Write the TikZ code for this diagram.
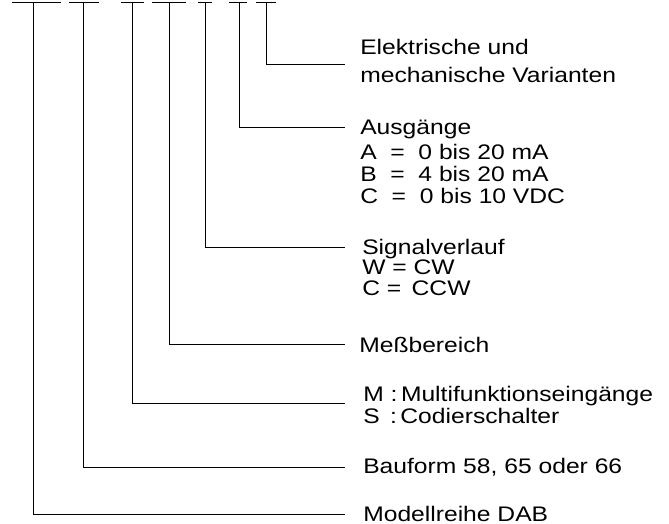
\documentclass[tikz,border=0pt]{standalone}
\usepackage{fontspec}
\setmainfont{Liberation Sans}[FakeStretch=1.17]
\usepackage{tikz}
\usetikzlibrary{positioning}

\tikzset{
    lbl/.style={anchor=base west,inner sep=0pt,font=\fontsize{15.8}{18}\selectfont},
    lead/.style={line width=0.75pt,black},
}

\begin{document}
\begin{tikzpicture}[x=0.75pt,y=-0.75pt]

        \useasboundingbox (0,0) rectangle (669,524);

        % code bars on top
        \coordinate (bar1a) at (12,3);  \coordinate (bar1b) at (61,3);
        \coordinate (bar2a) at (69,3);  \coordinate (bar2b) at (99,3);
        \coordinate (bar3a) at (121,3); \coordinate (bar3b) at (144,3);
        \coordinate (bar4a) at (152,3); \coordinate (bar4b) at (186,3);
        \coordinate (bar5a) at (198,3); \coordinate (bar5b) at (212,3);
        \coordinate (bar6a) at (229,3); \coordinate (bar6b) at (247,3);
        \coordinate (bar7a) at (256,3); \coordinate (bar7b) at (276,3);

        \draw[lead] (bar1a) -- (bar1b);
        \draw[lead] (bar2a) -- (bar2b);
        \draw[lead] (bar3a) -- (bar3b);
        \draw[lead] (bar4a) -- (bar4b);
        \draw[lead] (bar5a) -- (bar5b);
        \draw[lead] (bar6a) -- (bar6b);
        \draw[lead] (bar7a) -- (bar7b);

        % leader lines
        \coordinate (top1) at (33.5,3); \coordinate (end1) at (345,515);
        \coordinate (top2) at (83,3);   \coordinate (end2) at (345,468);
        \coordinate (top3) at (132,3);  \coordinate (end3) at (345,404);
        \coordinate (top4) at (169,3);  \coordinate (end4) at (345,345);
        \coordinate (top5) at (205,3);  \coordinate (end5) at (345,248);
        \coordinate (top6) at (239,3);  \coordinate (end6) at (345,128);
        \coordinate (top7) at (266,3);  \coordinate (end7) at (345,65);

        \draw[lead] (top1) |- (end1);
        \draw[lead] (top2) |- (end2);
        \draw[lead] (top3) |- (end3);
        \draw[lead] (top4) |- (end4);
        \draw[lead] (top5) |- (end5);
        \draw[lead] (top6) |- (end6);
        \draw[lead] (top7) |- (end7);

        % labels
        \node[lbl] (var1) at (360,55)    {Elektrische und};
        \node[lbl] (var2) at (360,82.5)  {mechanische Varianten};

        \node[lbl] (aus)  at (360,135)   {Ausgänge};
        \node[lbl] (ausa) at (360,159.5) {A~~=~~0 bis 20 mA};
        \node[lbl] (ausb) at (360,181.5) {B~~=~~4 bis 20 mA};
        \node[lbl] (ausc) at (360,203.5) {C~~=~~0 bis 10 VDC};

        \node[lbl] (sig)  at (362,254.5) {Signalverlauf};
        \node[lbl] (sigw) at (362,274.5) {W = CW};
        \node[lbl] (sigc) at (362,295.5) {C = \,CCW};

        \node[lbl] (mess) at (359,352.5) {Meßbereich};

        \node[lbl] (eina) at (363,402)   {M :\,Multifunktionseingänge};
        \node[lbl] (einb) at (363,423.5) {S~\,:\,Codierschalter};

        \node[lbl] (bau)  at (363,474)   {Bauform 58, 65 oder 66};
        \node[lbl] (mod)  at (363,521.5) {Modellreihe DAB};

\end{tikzpicture}
\end{document}
